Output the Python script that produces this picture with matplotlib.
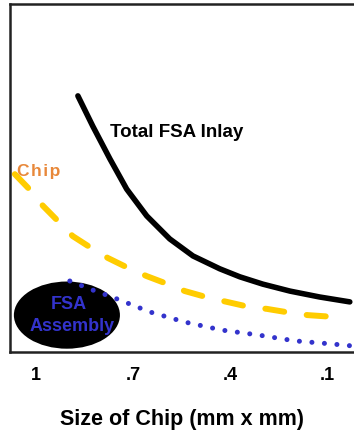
import matplotlib.pyplot as plt
from matplotlib.patches import Ellipse

plt.rcParams['font.family'] = ['Liberation Sans', 'DejaVu Sans']
plt.rcParams['font.weight'] = 'bold'

# chip size (mm x mm) vs relative cost
inlay_size = [0.870, 0.824, 0.771, 0.719, 0.657, 0.586, 0.514, 0.431, 0.369,
              0.298, 0.214, 0.122, 0.029]
inlay_cost = [7.36, 6.49, 5.55, 4.68, 3.91, 3.25, 2.76, 2.39, 2.16,
              1.95, 1.75, 1.58, 1.44]

chip_size = [1.065, 1.012, 0.978, 0.926, 0.886, 0.824, 0.777, 0.709, 0.657,
             0.586, 0.539, 0.462, 0.409, 0.338, 0.286, 0.208, 0.159, 0.081]
chip_cost = [5.11, 4.60, 4.20, 3.71, 3.33, 2.96, 2.70, 2.39, 2.18,
             1.93, 1.75, 1.55, 1.44, 1.29, 1.24, 1.12, 1.06, 1.01]

asm_size = [0.895, 0.824, 0.756, 0.647, 0.539, 0.425, 0.313, 0.199, 0.084, 0.016]
asm_cost = [2.04, 1.78, 1.55, 1.15, 0.86, 0.63, 0.49, 0.32, 0.23, 0.17]

tick_vals = [1.0, 0.7, 0.4, 0.1]
tick_labels = ['1', '.7', '.4', '.1']

fig = plt.figure(figsize=(3.54, 4.31), dpi=100)
ax = fig.add_axes([10 / 354, 78 / 431, 1 - 10 / 354, 348 / 431])

ax.plot(inlay_size, inlay_cost, color='black', lw=4, solid_capstyle='round',
        solid_joinstyle='round', zorder=3)
ax.plot(chip_size, chip_cost, color='#FFCC00', lw=4.3, dashes=(3.2, 3.8),
        dash_capstyle='round', dash_joinstyle='round', zorder=3)

ax.add_patch(Ellipse((0.904, 1.06), 0.328, 1.93, facecolor='black', zorder=2))
ax.plot(asm_size, asm_cost, color='#3333CC', lw=3.6, dashes=(0.01, 2.5),
        dash_capstyle='round', zorder=4)

ax.text(0.771, 6.35, 'Total FSA Inlay', fontsize=13.5, color='black', va='center', ha='left')
ax.text(1.059, 5.22, 'C\u200ah\u200ai\u200ap', fontsize=12.5, color='#E8883A',
        va='center', ha='left')
ax.text(0.898, 1.38, 'FSA', fontsize=13, color='#3333CC', va='center', ha='center', zorder=5)
ax.text(0.889, 0.75, 'Assembly', fontsize=13, color='#3333CC', va='center', ha='center', zorder=5)

ax.set_xlim(1.08, 0.016)
ax.set_ylim(0, 10)
ax.set_xticks(tick_vals)
ax.set_xticklabels(tick_labels, fontsize=13, fontweight='bold')
ax.set_yticks([])
ax.tick_params(axis='x', length=0, pad=10)
ax.set_xlabel('Size of Chip (mm x mm)', fontsize=15.5, fontweight='bold', labelpad=18)

ax.spines['right'].set_visible(False)
for s in ['left', 'top', 'bottom']:
    ax.spines[s].set_linewidth(1.8)
    ax.spines[s].set_color('#222222')

fig.savefig('out.png', dpi=100)
